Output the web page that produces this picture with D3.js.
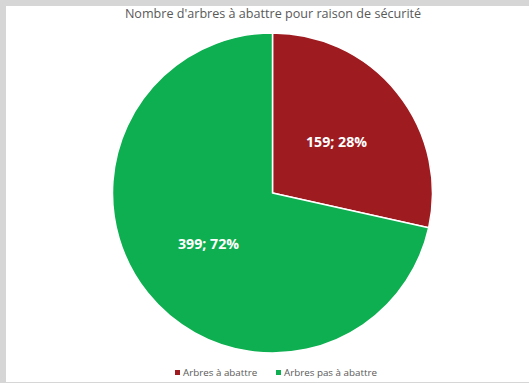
<!DOCTYPE html>
<html>
<head>
<meta charset="utf-8">
<script src="https://cdn.jsdelivr.net/npm/d3@7"></script>
<style>
  html, body { margin: 0; padding: 0; background: #ffffff; }
  svg { display: block; }
</style>
</head>
<body>
<svg id="chart" width="529" height="383"></svg>
<script>
// Tree counts by felling status
const categories = ["Arbres à abattre", "Arbres pas à abattre"];
const counts = [159, 399];
const colors = ["#9E1B20", "#0DAF50"];
const title = "Nombre d'arbres à abattre pour raison de sécurité";

const W = 529, H = 383;
const svg = d3.select("#chart");

// window frame (grey strip on top, left and bottom)
svg.append("rect").attr("x", 0).attr("y", 0).attr("width", W).attr("height", H).attr("fill", "#d6d6d6");
svg.append("rect").attr("x", 6).attr("y", 6).attr("width", W - 6).attr("height", H - 7).attr("fill", "#ffffff");

// title
svg.append("text")
  .attr("x", 273).attr("y", 18)
  .attr("text-anchor", "middle")
  .attr("font-family", "'Open Sans', sans-serif")
  .attr("font-size", 12.6)
  .attr("fill", "#595959")
  .text(title);

const cx = 272.5, cy = 193, R = 160;
const total = d3.sum(counts);
const data = categories.map((c, i) => ({ name: c, value: counts[i], color: colors[i] }));

const pie = d3.pie().value(d => d.value).sort(null);
const arcs = pie(data);
const arc = d3.arc().innerRadius(0).outerRadius(R);
const labelArc = d3.arc().innerRadius(82).outerRadius(82);

const g = svg.append("g").attr("transform", `translate(${cx},${cy})`);

g.selectAll("path.slice")
  .data(arcs)
  .enter().append("path")
  .attr("class", "slice")
  .attr("d", arc)
  .attr("fill", d => d.data.color)
  .attr("stroke", "#ffffff")
  .attr("stroke-width", 1.5)
  .attr("stroke-linejoin", "round");

g.selectAll("text.val")
  .data(arcs)
  .enter().append("text")
  .attr("class", "val")
  .attr("transform", d => `translate(${labelArc.centroid(d)})`)
  .attr("text-anchor", "middle")
  .attr("dy", "0.35em")
  .attr("font-family", "'Open Sans', sans-serif")
  .attr("font-weight", "bold")
  .attr("font-size", 14.2)
  .attr("fill", "#ffffff")
  .text(d => `${d.data.value}; ${Math.round(d.data.value / total * 100)}%`);

// legend
const legendX = [175, 276];
const lg = svg.append("g");
data.forEach((d, i) => {
  const item = lg.append("g").attr("transform", `translate(${legendX[i]},${373})`);
  item.append("rect")
    .attr("x", 0).attr("y", -3)
    .attr("width", 5).attr("height", 5)
    .attr("fill", d.color);
  item.append("text")
    .attr("x", 8).attr("y", 0)
    .attr("dy", "0.35em")
    .attr("font-family", "'Open Sans', sans-serif")
    .attr("font-size", 9.8)
    .attr("fill", "#595959")
    .text(d.name);
});
</script>
</body>
</html>
